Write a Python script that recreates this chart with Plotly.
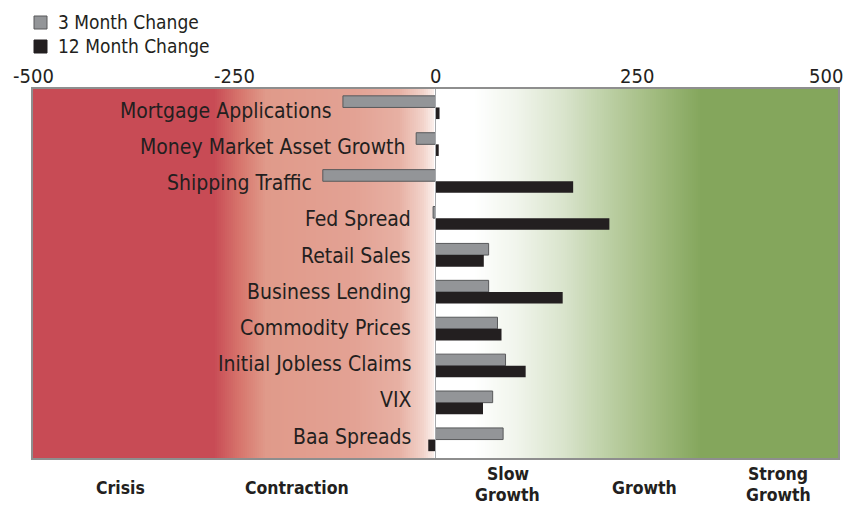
import plotly.graph_objects as go
import numpy as np

categories = ["Mortgage Applications", "Money Market Asset Growth", "Shipping Traffic",
              "Fed Spread", "Retail Sales", "Business Lending", "Commodity Prices",
              "Initial Jobless Claims", "VIX", "Baa Spreads"]
three_month = [-115, -24, -140, -3, 66, 66, 77, 87, 71, 84]
twelve_month = [5, 4, 171, 216, 60, 158, 82, 112, 59, -9]
tick_vals = [-500, -250, 0, 250, 500]
tick_text = ["-500", "-250", "0", "250", "500"]
zone_labels = [["Crisis"], ["Contraction"], ["Slow", "Growth"], ["Growth"], ["Strong", "Growth"]]
zone_centers = [-391, -172, 90, 260, 426]
series_names = ["3 Month Change", "12 Month Change"]
series_colors = ["#939598", "#231F20"]

FONT = "Liberation Sans Narrow, DejaVu Sans Condensed, Arial Narrow, sans-serif"
TXT = "#231F20"

# page body has ~8px default margin: size the figure so it fits the 854x506 window
W, H = 846, 498
ML, MR, MT, MB = 25, 16, 81, 48
PH = H - MT - MB
PW = W - ML - MR

def py(ypix):
    # window pixel (y) -> paper fraction
    return (H - MB + 8 - ypix) / PH

def px(xpix):
    return (xpix - 8 - ML) / PW

# background gradient
gx = np.linspace(-500, 500, 401)
colorscale = [
    [0.0, "#C84B55"], [0.225, "#C84B55"], [0.258, "#D7766D"], [0.29, "#E09A8A"],
    [0.40, "#E3A294"], [0.455, "#E7B0A3"], [0.485, "#F2D3CA"], [0.4995, "#FBF1EE"],
    [0.5, "#FFFFFF"], [0.548, "#FFFFFF"], [0.60, "#F1F5EC"], [0.66, "#D9E4CC"],
    [0.72, "#B9CDA0"], [0.78, "#9DB87A"], [0.83, "#84A65C"], [1.0, "#84A65C"]]

fig = go.Figure()
fig.add_trace(go.Heatmap(x=gx, y=[0], z=[gx], colorscale=colorscale, zmin=-500, zmax=500,
                         showscale=False, hoverinfo="skip", xaxis="x", yaxis="y"))

fig.add_trace(go.Bar(name=series_names[0], y=categories, x=three_month, orientation="h",
                     marker=dict(color=series_colors[0], line=dict(color="#58595B", width=1)),
                     xaxis="x", yaxis="y2"))
fig.add_trace(go.Bar(name=series_names[1], y=categories, x=twelve_month, orientation="h",
                     marker=dict(color=series_colors[1], line=dict(width=0)),
                     xaxis="x", yaxis="y2"))

annotations = []
# category labels: right-aligned just left of the leftmost bar end (or near zero)
for i, (c, a, b) in enumerate(zip(categories, three_month, twelve_month)):
    xl = min(min(a, b, 0) - 11, -28)
    annotations.append(dict(x=xl, y=c, xref="x", yref="y2", text=c, showarrow=False,
                            xanchor="right", yanchor="middle", yshift=-3.5 + 0.72 * i,
                            font=dict(family=FONT, size=21, color=TXT)))
# top tick labels
for tv, tt in zip(tick_vals, tick_text):
    last = tv == tick_vals[-1]
    annotations.append(dict(x=tv, y=py(76), xref="x", yref="paper", text=tt, showarrow=False,
                            xanchor="right" if last else "center", yanchor="middle",
                            xshift=7 if last else 0,
                            font=dict(family=FONT, size=20, color=TXT)))
# zone labels below the plot
for lines, xc in zip(zone_labels, zone_centers):
    ys = [488] if len(lines) == 1 else [474, 495]
    for ln, yp in zip(lines, ys):
        annotations.append(dict(x=xc, y=py(yp), xref="x", yref="paper", text="<b>%s</b>" % ln,
                                showarrow=False, xanchor="center", yanchor="middle",
                                font=dict(family=FONT, size=17.5, color=TXT)))

# manual legend (kept out of the margins)
shapes = []
leg = [(16, 29, 22), (40, 53, 46)]
for (ya, yb, yt), name, col in zip(leg, series_names, series_colors):
    shapes.append(dict(type="rect", xref="paper", yref="paper", x0=px(34), x1=px(47),
                       y0=py(yb), y1=py(ya), fillcolor=col,
                       line=dict(color="#58595B" if col != "#231F20" else col, width=1)))
    annotations.append(dict(x=px(56), y=py(yt), xref="paper", yref="paper", text=name,
                            showarrow=False, xanchor="left", yanchor="middle",
                            font=dict(family=FONT, size=19, color=TXT)))

shapes.append(dict(type="line", x0=0, x1=0, y0=0, y1=1, xref="x", yref="paper",
                   line=dict(color="#A7A9AC", width=1), layer="above"))

fig.update_layout(
    width=W, height=H,
    margin=dict(l=ML, r=MR, t=MT, b=MB, autoexpand=False),
    paper_bgcolor="white", plot_bgcolor="white",
    barmode="group", bargap=0.37, bargroupgap=0.0,
    showlegend=False,
    xaxis=dict(range=[-500, 500], side="top", tickvals=tick_vals, showticklabels=False,
               showgrid=False, zeroline=False, showline=True, linecolor="#8E8E8E",
               linewidth=2, mirror=True, ticks=""),
    yaxis=dict(range=[-0.5, 0.5], showticklabels=False, showgrid=False, zeroline=False,
               showline=True, linecolor="#8E8E8E", linewidth=2, mirror=True, fixedrange=True),
    yaxis2=dict(overlaying="y", autorange="reversed", type="category", showticklabels=False,
                showgrid=False, zeroline=False, showline=False),
    annotations=annotations,
    shapes=shapes,
)

fig.write_html("out.html")
